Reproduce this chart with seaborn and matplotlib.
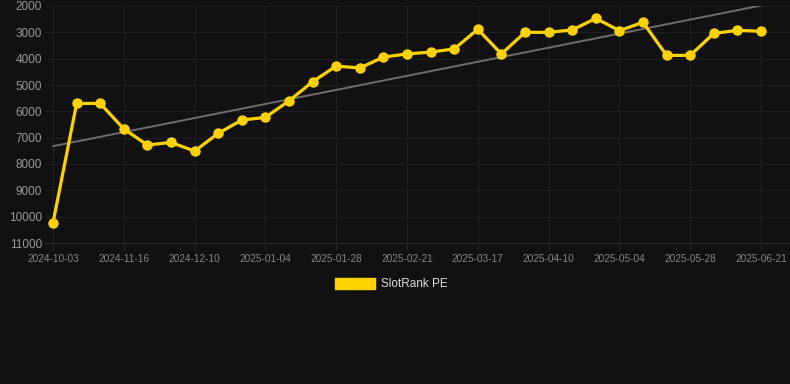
import pandas as pd
import numpy as np
import matplotlib
matplotlib.use("Agg")
import matplotlib.pyplot as plt
from matplotlib.patches import Patch
import seaborn as sns

dates = [
    "2024-10-03", "2024-10-18", "2024-11-01", "2024-11-16", "2024-11-24",
    "2024-12-02", "2024-12-10", "2024-12-18", "2024-12-26", "2025-01-04",
    "2025-01-12", "2025-01-20", "2025-01-28", "2025-02-05", "2025-02-13",
    "2025-02-21", "2025-03-01", "2025-03-09", "2025-03-17", "2025-03-25",
    "2025-04-02", "2025-04-10", "2025-04-18", "2025-04-26", "2025-05-04",
    "2025-05-12", "2025-05-20", "2025-05-28", "2025-06-05", "2025-06-13",
    "2025-06-21",
]
rank = [
    10230, 5700, 5700, 6670, 7280, 7180, 7510, 6835, 6330, 6230,
    5600, 4875, 4280, 4355, 3940, 3820, 3750, 3630, 2885, 3820,
    3000, 3000, 2910, 2470, 2935, 2620, 3875, 3875, 3040, 2925,
    2960,
]
y_ticks = [2000, 3000, 4000, 5000, 6000, 7000, 8000, 9000, 10000, 11000]
series_name = "SlotRank PE"

bg = "#111111"
gold = "#FFD200"

df = pd.DataFrame({"date": dates, "rank": rank})
df["idx"] = np.arange(len(df))

# linear trend of the series
slope, intercept = np.polyfit(df["idx"], df["rank"], 1)
df["trend"] = slope * df["idx"] + intercept

sns.set_theme(style="dark")
plt.rcParams["font.family"] = ["Liberation Sans", "DejaVu Sans"]

fig = plt.figure(figsize=(7.9, 3.84), dpi=100, facecolor=bg)
ax = fig.add_axes([45 / 790, 1 - 243 / 384, 745 / 790, 237 / 384])
ax.set_facecolor(bg)

sns.lineplot(data=df, x="idx", y="trend", ax=ax, color="#6e6e6e", linewidth=1.4)
sns.lineplot(data=df, x="idx", y="rank", ax=ax, color=gold, linewidth=2.3,
             marker="o", markersize=7.5, markeredgewidth=0, markerfacecolor=gold)

ax.set_ylim(11000, 2000)
ax.set_yticks(y_ticks)
ax.set_yticklabels([str(v) for v in y_ticks])
ax.set_xlim(-0.34, 31.23)
tick_pos = list(range(0, len(dates), 3))
ax.set_xticks(tick_pos)
ax.set_xticklabels([dates[i] for i in tick_pos])

ax.grid(True, color="#1f1f1f", linewidth=0.8)
ax.set_axisbelow(True)
for s in ax.spines.values():
    s.set_visible(False)
ax.spines["bottom"].set_visible(True)
ax.spines["bottom"].set_color("#2a2a2a")
ax.spines["bottom"].set_linewidth(0.8)
ax.tick_params(axis="y", colors="#9a9a9a", labelsize=8.5, length=0, pad=2)
ax.tick_params(axis="x", colors="#2a2a2a", labelcolor="#858585", labelsize=7.3,
               length=5, width=0.8, pad=3, bottom=True)
ax.set_xlabel("")
ax.set_ylabel("")

handle = Patch(facecolor=gold, edgecolor=gold)
fig.legend([handle], [series_name], loc="center", bbox_to_anchor=(391 / 790, 1 - 284 / 384),
           frameon=False, fontsize=8.5, labelcolor="#dddddd",
           handlelength=3.4, handleheight=1.1, handletextpad=0.5)

fig.savefig("out.png", dpi=100, facecolor=bg)
